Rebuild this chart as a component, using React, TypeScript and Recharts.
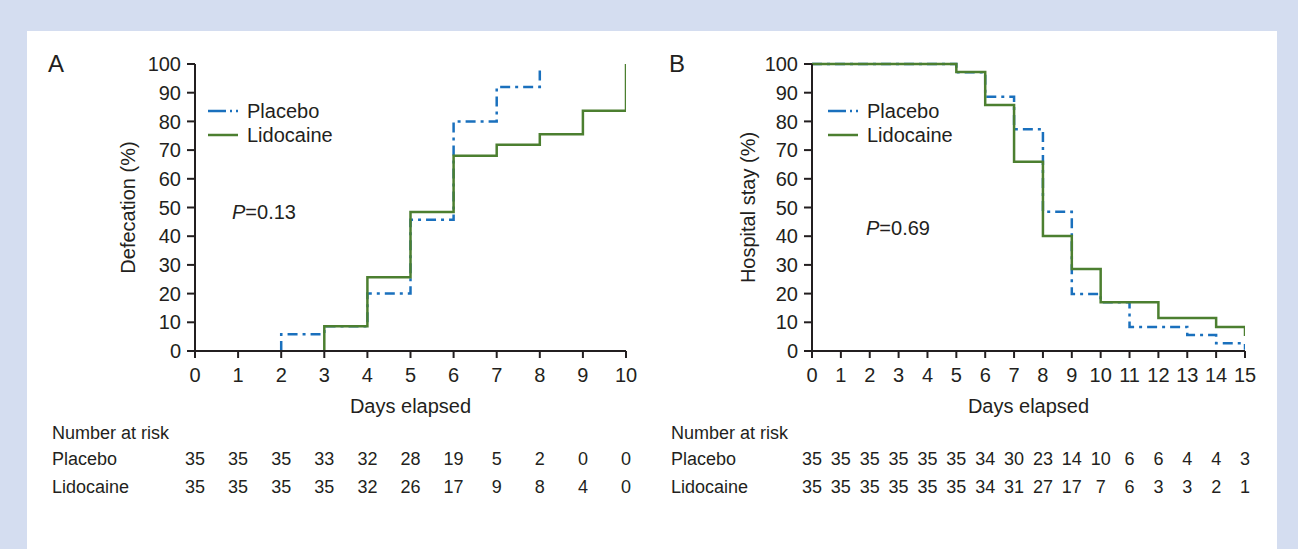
import React from "react";
import { ComposedChart, Line, XAxis, YAxis } from "recharts";

const FONT = '"Liberation Sans", Arial, Helvetica, sans-serif';
const INK = "#231f20";
const BLUE = "#1a70bd";
const GREEN = "#4c7f30";
const DASH = "10 5 3 5";

// Panel A: time to first defecation, cumulative %
const daysA = [0, 1, 2, 3, 4, 5, 6, 7, 8, 9, 10];
const defecPlaceboDays = [2, 2, 3, 4, 5, 6, 7, 8];
const defecPlaceboPct = [0, 5.8, 8.6, 20, 45.7, 80, 92, 98.5];
const defecLidoDays = [3, 3, 4, 5, 6, 7, 8, 9, 10];
const defecLidoPct = [0, 8.6, 25.7, 48.4, 68, 71.9, 75.5, 83.7, 100];
const riskAPlacebo = [35, 35, 35, 33, 32, 28, 19, 5, 2, 0, 0];
const riskALido = [35, 35, 35, 35, 32, 26, 17, 9, 8, 4, 0];

// Panel B: hospital stay, % still in hospital
const daysB = [0, 1, 2, 3, 4, 5, 6, 7, 8, 9, 10, 11, 12, 13, 14, 15];
const stayPlaceboDays = [0, 5, 6, 7, 8, 9, 10, 11, 13, 14, 15];
const stayPlaceboPct = [100, 97.1, 88.6, 77.3, 48.5, 19.9, 17, 8.4, 5.6, 2.7, 0.4];
const stayLidoDays = [0, 5, 6, 7, 8, 9, 10, 12, 14, 15];
const stayLidoPct = [100, 97.2, 85.7, 65.9, 40.1, 28.6, 17, 11.5, 8.4, 5.2];
const riskBPlacebo = [35, 35, 35, 35, 35, 35, 34, 30, 23, 14, 10, 6, 6, 4, 4, 3];
const riskBLido = [35, 35, 35, 35, 35, 35, 34, 31, 27, 17, 7, 6, 3, 3, 2, 1];

const yTicks = [0, 10, 20, 30, 40, 50, 60, 70, 80, 90, 100];

const toRows = (days: number[], pct: number[]) => days.map((d, i) => ({ day: d, pct: pct[i] }));

// x tick that also prints the number-at-risk rows under each day
function riskTick(placebo: number[], lido: number[]) {
  return (props: any) => {
    const { x, y, payload } = props;
    const v = payload.value as number;
    return (
      <g fontFamily={FONT} fill={INK}>
        <text x={x} y={y} dy="0.71em" textAnchor="middle" fontSize={20} fill={INK}>{v}</text>
        <text x={x} y={y + 91} dy="0.35em" textAnchor="middle" fontSize={18} fill={INK}>{placebo[v]}</text>
        <text x={x} y={y + 119} dy="0.35em" textAnchor="middle" fontSize={18} fill={INK}>{lido[v]}</text>
      </g>
    );
  };
}

const abs = (left: number, top: number, extra: React.CSSProperties = {}): React.CSSProperties => ({
  position: "absolute", left, top, fontFamily: FONT, color: INK, whiteSpace: "nowrap", ...extra,
});

function LegendBox({ left }: { left: number }) {
  return (
    <>
      <svg style={{ position: "absolute", left, top: 100 }} width={32} height={40}>
        <line x1={0} y1={11} x2={30} y2={11} stroke={BLUE} strokeWidth={2.5} strokeDasharray="18 4 2 4 2 10" />
        <line x1={0} y1={35} x2={30} y2={35} stroke={GREEN} strokeWidth={2.5} />
      </svg>
      <div style={abs(left + 39, 99, { fontSize: 20, lineHeight: "24px" })}>Placebo</div>
      <div style={abs(left + 39, 123, { fontSize: 20, lineHeight: "24px" })}>Lidocaine</div>
    </>
  );
}

interface PanelProps {
  left: number;
  marginLeft: number;
  marginRight: number;
  days: number[];
  placebo: { day: number; pct: number }[];
  lido: { day: number; pct: number }[];
  riskP: number[];
  riskL: number[];
  yLabel: string;
  labelOffset: number;
}

function Panel({ left, marginLeft, marginRight, days, placebo, lido, riskP, riskL, yLabel, labelOffset }: PanelProps) {
  const axisStyle = { stroke: INK, strokeWidth: 2 };
  return (
    <div style={{ position: "absolute", left, top: 0 }}>
      <ComposedChart width={650} height={549} margin={{ top: 64, right: marginRight, left: marginLeft, bottom: 136 }}>
        <XAxis
          type="number"
          dataKey="day"
          domain={[days[0], days[days.length - 1]]}
          ticks={days}
          interval={0}
          allowDataOverflow
          height={62}
          tickSize={7}
          tickMargin={10}
          axisLine={axisStyle}
          tickLine={axisStyle}
          tick={riskTick(riskP, riskL)}
          label={{ value: "Days elapsed", position: "insideBottom", offset: 0, fontSize: 20, fill: INK, fontFamily: FONT }}
        />
        <YAxis
          type="number"
          domain={[0, 100]}
          ticks={yTicks}
          interval={0}
          width={80}
          tickSize={8}
          tickMargin={6}
          axisLine={axisStyle}
          tickLine={axisStyle}
          tick={{ fontSize: 20, fill: INK, fontFamily: FONT }}
          label={{
            value: yLabel, angle: -90, position: "insideLeft", offset: labelOffset,
            fontSize: 20, fill: INK, fontFamily: FONT, style: { textAnchor: "middle" },
          }}
        />
        <Line data={placebo} dataKey="pct" type="stepAfter" stroke={BLUE} strokeWidth={2.5}
          strokeDasharray={DASH} dot={false} activeDot={false} isAnimationActive={false} />
        <Line data={lido} dataKey="pct" type="stepAfter" stroke={GREEN} strokeWidth={2.5}
          dot={false} activeDot={false} isAnimationActive={false} />
      </ComposedChart>
    </div>
  );
}

export default function App() {
  return (
    <div style={{ position: "absolute", left: 0, top: 0, width: 1298, height: 549, background: "#d4ddf0", overflow: "hidden" }}>
      <div style={{ position: "absolute", left: 27, top: 31, width: 1250, height: 518, background: "#fff" }} />
      <Panel left={0} marginLeft={115} marginRight={24} days={daysA}
        placebo={toRows(defecPlaceboDays, defecPlaceboPct)} lido={toRows(defecLidoDays, defecLidoPct)}
        riskP={riskAPlacebo} riskL={riskALido} yLabel="Defecation (%)" labelOffset={13} />
      <Panel left={620} marginLeft={112} marginRight={25} days={daysB}
        placebo={toRows(stayPlaceboDays, stayPlaceboPct)} lido={toRows(stayLidoDays, stayLidoPct)}
        riskP={riskBPlacebo} riskL={riskBLido} yLabel="Hospital stay (%)" labelOffset={16} />

      <div style={abs(48, 50, { fontSize: 24, lineHeight: "28px" })}>A</div>
      <div style={abs(669, 50, { fontSize: 24, lineHeight: "28px" })}>B</div>

      <LegendBox left={208} />
      <LegendBox left={828} />

      <div style={abs(232, 200, { fontSize: 20, lineHeight: "24px" })}><i>P</i>=0.13</div>
      <div style={abs(866, 216, { fontSize: 20, lineHeight: "24px" })}><i>P</i>=0.69</div>

      <div style={abs(52, 423, { fontSize: 18, lineHeight: "20px" })}>Number at risk</div>
      <div style={abs(52, 449, { fontSize: 18, lineHeight: "20px" })}>Placebo</div>
      <div style={abs(52, 477, { fontSize: 18, lineHeight: "20px" })}>Lidocaine</div>
      <div style={abs(671, 423, { fontSize: 18, lineHeight: "20px" })}>Number at risk</div>
      <div style={abs(671, 449, { fontSize: 18, lineHeight: "20px" })}>Placebo</div>
      <div style={abs(671, 477, { fontSize: 18, lineHeight: "20px" })}>Lidocaine</div>
    </div>
  );
}
